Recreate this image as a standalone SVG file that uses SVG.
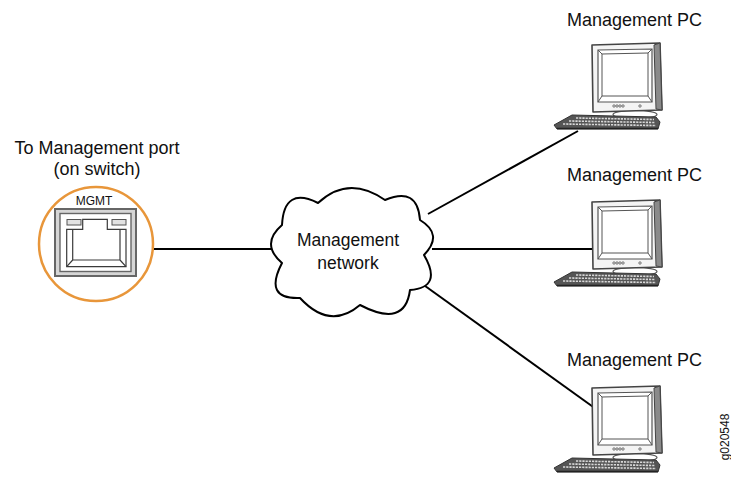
<svg xmlns="http://www.w3.org/2000/svg" xmlns:xlink="http://www.w3.org/1999/xlink" width="731" height="480" viewBox="0 0 731 480">
  <style>
    .lbl { font-family: "Liberation Sans", Arial, sans-serif; fill: #111; }
    .wire { stroke: #000; stroke-width: 2; fill: none; }
    .frame { fill: #f4f4f4; stroke: #444; stroke-width: 1.6; stroke-linejoin: round; }
    .thin { fill: none; stroke: #555; stroke-width: 1; }
    .jack { fill: none; stroke: #3a3a3a; stroke-width: 1.2; }
  </style>
  <defs>
    <!-- desktop PC: monitor, stand and keyboard; origin = monitor top-left -->
    <symbol id="pc" overflow="visible">
      <ellipse cx="45" cy="71.5" rx="22" ry="4" fill="#fff" stroke="#555" stroke-width="1.2"/>
      <polygon class="frame" points="2,2 70,0 72,67 3,69"/>
      <polygon points="64,2 70,0 72,67 66,66" fill="#8a8a8a" stroke="#444" stroke-width="1"/>
      <polygon points="8,7 62,6 62,59 8,59" fill="#fff" stroke="#555" stroke-width="1.2"/>
      <polygon points="12,11 58,10 58,53 12,53" fill="#fff" stroke="#555" stroke-width="1"/>
      <path class="thin" d="M8,7 L12,11 M62,6 L58,10 M62,59 L58,53 M8,59 L12,53"/>
      <g fill="none" stroke="#555" stroke-width="0.8">
        <circle cx="24" cy="63" r="1.2"/>
        <circle cx="27" cy="63" r="1.2"/>
        <circle cx="30" cy="63" r="1.2"/>
        <circle cx="33" cy="63" r="1.2"/>
        <circle cx="50" cy="63" r="1.2"/>
      </g>
      <polygon points="-18,72 66,74 70,79 68,86 -33,86 -36,82" fill="#555" stroke="#333" stroke-width="1" stroke-linejoin="round"/>
      <g stroke="#d8d8d8" stroke-width="1.6" stroke-dasharray="2.2 1">
        <line x1="-14" y1="75" x2="64" y2="76.5"/>
        <line x1="-21" y1="78" x2="65" y2="79.5"/>
        <line x1="-27" y1="81" x2="66" y2="82.5"/>
      </g>
      <line x1="-33" y1="85.5" x2="68" y2="85.5" stroke="#222" stroke-width="1.5"/>
    </symbol>
  </defs>

  <!-- links -->
  <g id="connectors">
    <line class="wire" x1="136" y1="249" x2="274" y2="249"/>
    <line class="wire" x1="428" y1="214" x2="578" y2="131"/>
    <line class="wire" x1="432" y1="249" x2="593" y2="249"/>
    <line class="wire" x1="414" y1="278" x2="596" y2="409"/>
  </g>

  <!-- management port on the switch -->
  <g id="mgmt-port">
    <text class="lbl" x="97" y="154" font-size="18" text-anchor="middle">To Management port</text>
    <text class="lbl" x="97" y="175" font-size="18" text-anchor="middle">(on switch)</text>
    <circle cx="96" cy="244" r="57" fill="#fff" stroke="#E8963A" stroke-width="2.5"/>
    <text class="lbl" x="94" y="205" font-size="12" text-anchor="middle">MGMT</text>
    <rect x="55" y="209" width="81" height="67" fill="#d6d6d6" stroke="#666" stroke-width="2"/>
    <rect x="60" y="213.5" width="71" height="58" fill="#fff" stroke="#666" stroke-width="1.4"/>
    <rect x="67" y="219.5" width="14" height="5.5" fill="#e2e2e2" stroke="#555" stroke-width="1"/>
    <rect x="112" y="219.5" width="14" height="5.5" fill="#e2e2e2" stroke="#555" stroke-width="1"/>
    <polygon class="jack" points="66.7,229.3 82.7,229.3 82.7,219.3 107.3,219.3 107.3,229.3 126,229.3 126,266.7 66.7,266.7"/>
    <path class="jack" d="M72.7,229.3 L72.7,260 L120,260 L120,229.3 M72.7,260 L66.7,266.7 M120,260 L126,266.7"/>
  </g>

  <!-- management network cloud -->
  <g id="network">
    <path d="M282,225 Q284,186 318,203 Q348.5,174.5 385,200 Q417.5,186 420,220 Q444,234.5 424,255 Q443,287.5 410,290 Q405,328.5 360,305 Q330,330.5 300,298 Q263,299.5 282,263 Q260,244 282,225 Z" fill="#fff" stroke="#000" stroke-width="2" stroke-linejoin="round"/>
    <text class="lbl" x="348" y="246" font-size="17.5" text-anchor="middle">Management</text>
    <text class="lbl" x="348" y="269" font-size="17.5" text-anchor="middle">network</text>
  </g>

  <g id="pc-1">
    <text class="lbl" x="567" y="26" font-size="18">Management PC</text>
    <use xlink:href="#pc" href="#pc" x="590" y="43"/>
  </g>
  <g id="pc-2">
    <text class="lbl" x="567" y="181" font-size="18">Management PC</text>
    <use xlink:href="#pc" href="#pc" x="590" y="200"/>
  </g>
  <g id="pc-3">
    <text class="lbl" x="567" y="366" font-size="18">Management PC</text>
    <use xlink:href="#pc" href="#pc" x="590" y="386"/>
  </g>

  <text class="lbl" font-size="12" text-anchor="middle" transform="translate(729,437) rotate(-90)">g020548</text>
</svg>
